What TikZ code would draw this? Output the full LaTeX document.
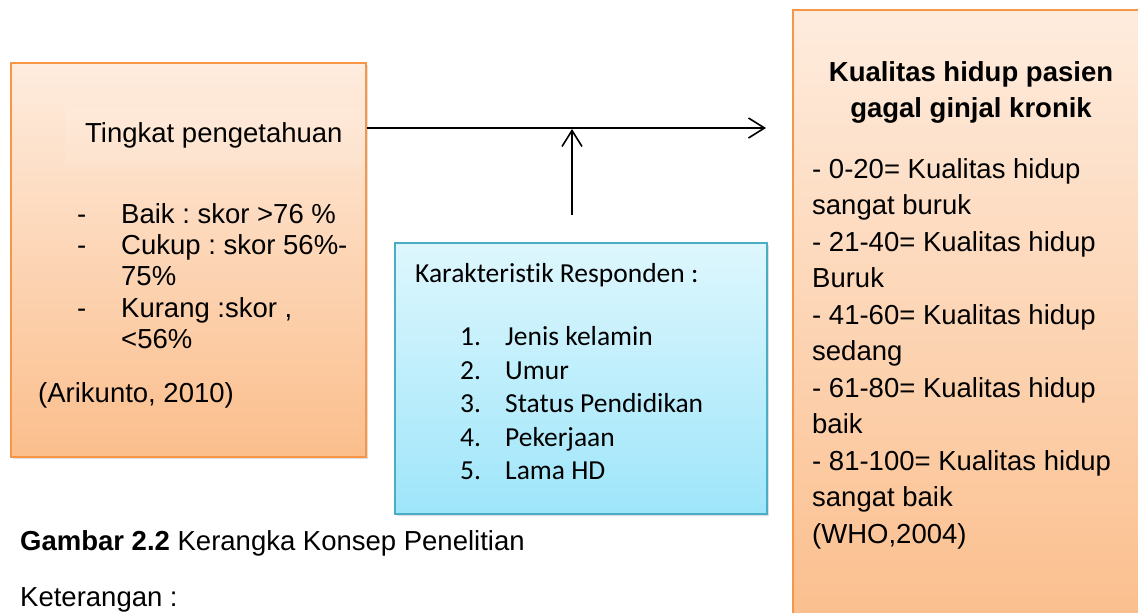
\documentclass[tikz,border=0pt]{standalone}
\usepackage{fontspec}
\setmainfont{Liberation Sans}
\newfontfamily\calib[Ligatures=NoCommon]{Carlito}
\usetikzlibrary{arrows.meta,shadows}
\frenchspacing
\definecolor{orbord}{RGB}{247,150,70}
\definecolor{ortop}{RGB}{254,236,222}
\definecolor{orbot}{RGB}{251,190,140}
\definecolor{blbord}{RGB}{75,172,198}
\definecolor{bltop}{RGB}{222,247,253}
\definecolor{blbot}{RGB}{158,229,250}
\tikzset{
  orbox/.style={draw=orbord, line width=1.2pt, top color=ortop, bottom color=orbot,
    drop shadow={shadow xshift=2pt, shadow yshift=-2pt, opacity=0.25}, inner sep=0pt},
  blbox/.style={draw=blbord, line width=1.2pt, top color=bltop, bottom color=blbot,
    drop shadow={shadow xshift=2pt, shadow yshift=-2pt, opacity=0.25}, inner sep=0pt},
  ar/.style={font=\frenchspacing\fontsize{27.5}{32}\selectfont, anchor=base west, inner sep=0pt},
  arb/.style={font=\bfseries\fontsize{27.5}{32}\selectfont, anchor=base, inner sep=0pt},
  cb/.style={font=\calib\fontsize{27.5}{32}\selectfont, anchor=base west, inner sep=0pt},
  conn/.style={line width=1.6pt, -{Straight Barb[length=16pt,width=20pt,line width=1.6pt]}}
}
\begin{document}
\begin{tikzpicture}[x=1pt,y=-1pt]
\useasboundingbox (0,0) rectangle (1138,613);
% boxes
\node[orbox, minimum width=355pt, minimum height=394pt] (left) at (188.5,260) {};
\node[blbox, minimum width=372pt, minimum height=271pt] (mid) at (581,378.5) {};
\node[orbox, minimum width=360pt, minimum height=620pt] (right) at (973,320) {};
\useasboundingbox (0,0) rectangle (1138,613);
\node[fill=white, opacity=0.1, minimum width=300pt, minimum height=60pt, inner sep=0pt] (tbg) at (215,137) {};
% left box text
\node[ar] (t1) at (85,142) {Tingkat pengetahuan};
\node[ar] (d1) at (77,223) {-};
\node[ar] (l1) at (121,223) {Baik : skor >76 \%};
\node[ar] (d2) at (77,254) {-};
\node[ar] (l2) at (121,254) {Cukup : skor 56\%-};
\node[ar] (l3) at (121,285) {75\%};
\node[ar] (d3) at (77,317) {-};
\node[ar] (l4) at (121,317) {Kurang :skor ,};
\node[ar] (l5) at (121,348) {<56\%};
\node[ar] (ref1) at (38,402) {(Arikunto, 2010)};
% middle box text
\node[cb] (m0) at (415,282) {Karakteristik Responden :};
\node[cb] (n1) at (460,345) {1.};
\node[cb] (m1) at (505,345) {Jenis kelamin};
\node[cb] (n2) at (460,379) {2.};
\node[cb] (m2) at (505,379) {Umur};
\node[cb] (n3) at (460,412) {3.};
\node[cb] (m3) at (505,412) {Status Pendidikan};
\node[cb] (n4) at (460,446) {4.};
\node[cb] (m4) at (505,446) {Pekerjaan};
\node[cb] (n5) at (460,479) {5.};
\node[cb] (m5) at (505,479) {Lama HD};
% right box text
\node[arb] (r0) at (971,81) {Kualitas hidup pasien};
\node[arb] (r00) at (971,117) {gagal ginjal kronik};
\node[ar] (r1) at (812,178) {- 0-20= Kualitas hidup};
\node[ar] (r2) at (812,214) {sangat buruk};
\node[ar] (r3) at (812,251) {- 21-40= Kualitas hidup};
\node[ar] (r4) at (812,287) {Buruk};
\node[ar] (r5) at (812,324) {- 41-60= Kualitas hidup};
\node[ar] (r6) at (812,360) {sedang};
\node[ar] (r7) at (812,397) {- 61-80= Kualitas hidup};
\node[ar] (r8) at (812,433) {baik};
\node[ar] (r9) at (812,470) {- 81-100= Kualitas hidup};
\node[ar] (r10) at (812,506) {sangat baik};
\node[ar] (r11) at (812,543) {(WHO,2004)};
% caption
\node[ar] (cap) at (20,550) {\textbf{Gambar 2.2} Kerangka Konsep Penelitian};
\node[ar] (ket) at (20,606) {Keterangan :};
% connectors
\coordinate (hend) at (766,128);
\coordinate (vstart) at (572,215);
\coordinate (vend) at (572,129);
\draw[conn] (left.east |- hend) -- (hend);
\draw[conn] (vstart) -- (vend);
\end{tikzpicture}
\end{document}
